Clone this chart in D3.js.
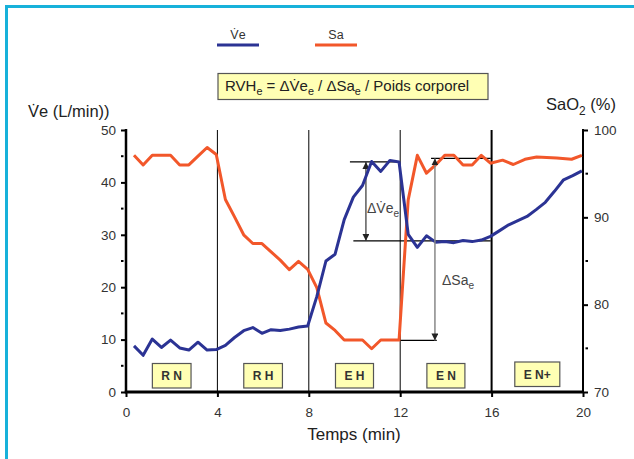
<!DOCTYPE html>
<meta charset="utf-8">
<style>
  body { margin: 0; background: #fff; }
  svg { display: block; font-family: "Liberation Sans", Arial, sans-serif; }
  .tick text { fill: #333; font-size: 13.5px; font-family: "Liberation Sans", Arial, sans-serif; }
  .tick line { stroke: #000; stroke-width: 2; }
  .phase text { font-weight: bold; font-size: 12px; fill: #333; }
</style>
<body>
</body>
<script src="https://cdn.jsdelivr.net/npm/d3@7"></script>
<script>
  const W = 634, H = 459;

  // time (min) of each sample
  const veTime = [0.35, 0.75, 1.15, 1.55, 1.95, 2.35, 2.75, 3.15, 3.55, 3.95,
                  4.35, 4.75, 5.15, 5.55, 5.95, 6.35, 6.75, 7.15, 7.55, 7.95,
                  8.35, 8.75, 9.15, 9.55, 9.95, 10.35, 10.75, 11.15, 11.55, 11.95,
                  12.35, 12.75, 13.15, 13.55, 13.95, 14.35, 14.75, 15.15, 15.55, 15.95,
                  16.35, 16.75, 17.15, 17.55, 17.95, 18.35, 18.75, 19.15, 19.55, 19.95];
  const veValues = [8.8, 7.0, 10.1, 8.5, 9.9, 8.4, 8.0, 9.5, 8.0, 8.1,
                    8.9, 10.4, 11.7, 12.3, 11.2, 11.9, 11.75, 12.0, 12.4, 12.6,
                    18.2, 25.0, 26.3, 32.9, 37.2, 39.4, 44.0, 42.1, 44.2, 43.9,
                    30.1, 27.6, 29.8, 28.6, 28.7, 28.5, 28.9, 28.7, 29.0, 29.7,
                    30.8, 31.9, 32.7, 33.5, 34.8, 36.2, 38.3, 40.5, 41.3, 42.2];

  const saTime = [0.35, 0.75, 1.15, 1.55, 1.95, 2.35, 2.75, 3.15, 3.55, 3.95,
                  4.35, 4.75, 5.15, 5.55, 5.95, 6.35, 6.75, 7.15, 7.55, 7.95,
                  8.35, 8.75, 9.15, 9.55, 9.95, 10.35, 10.75, 11.15, 11.55, 11.95,
                  12.35, 12.75, 13.15, 13.55, 13.95, 14.35, 14.75, 15.15, 15.55, 15.95,
                  16.48, 16.95, 17.46, 17.97, 18.85, 19.5, 19.95];
  const saValues = [97.1, 96.0, 97.1, 97.1, 97.1, 96.0, 96.0, 97.0, 98.0, 97.2,
                    92.05, 90.05, 88.0, 87.0, 87.0, 86.05, 85.1, 84.0, 84.95, 84.05,
                    81.95, 77.9, 77.05, 75.95, 75.95, 75.95, 74.95, 75.95, 75.95, 75.95,
                    92.0, 97.1, 95.05, 96.0, 97.1, 97.1, 96.0, 96.0, 97.1, 96.2,
                    96.55, 96.05, 96.65, 96.9, 96.8, 96.65, 97.1];

  const xTicks = [0, 4, 8, 12, 16, 20];
  const leftTicks = [0, 10, 20, 30, 40, 50];
  const leftMinor = [5, 15, 25, 35, 45];
  const rightTicks = [70, 80, 90, 100];
  const rightMinor = [75, 85, 95];

  const phaseLines = [4, 8, 12, 16];
  const phases = ['R N', 'R H', 'E H', 'E N', 'E N+'];
  const phaseCenters = [2, 6, 10, 14, 18];

  // delta annotations: [t1, t2, value]
  const veLevels = [[9.8, 11.95, 43.9], [9.95, 15.96, 28.85]];
  const veArrowT = 10.5;
  const saLevels = [[13.35, 15.96, 96.75], [11.95, 13.6, 75.9]];
  const saArrowT = 13.52;

  const blue = '#2b3394', orange = '#f2572a';

  const x = d3.scaleLinear().domain([0, 20]).range([126, 583]);
  const yL = d3.scaleLinear().domain([0, 50]).range([392, 130]);
  const yR = d3.scaleLinear().domain([70, 100]).range([392, 130]);

  const svg = d3.select('body').append('svg')
    .attr('width', W)
    .attr('height', H);

  // frame
  svg.append('path')
    .attr('d', `M6.5,${H} V6.5 H${W}`)
    .attr('fill', 'none')
    .attr('stroke', '#17b1da')
    .attr('stroke-width', 3);

  const defs = svg.append('defs');
  defs.append('marker')
    .attr('id', 'arrow')
    .attr('viewBox', '0 0 10 10')
    .attr('refX', 10).attr('refY', 5)
    .attr('markerWidth', 7).attr('markerHeight', 7)
    .attr('orient', 'auto-start-reverse')
    .attr('markerUnits', 'userSpaceOnUse')
    .append('path').attr('d', 'M0,0 L10,5 L0,10 z').attr('fill', '#222');

  // phase separators
  svg.append('g').selectAll('line')
    .data(phaseLines)
    .join('line')
    .attr('x1', d => x(d)).attr('x2', d => x(d))
    .attr('y1', yL(50)).attr('y2', yL(0))
    .attr('stroke', '#000')
    .attr('stroke-width', d => d === 16 ? 2 : 1);

  // axes
  svg.append('g')
    .attr('transform', `translate(${x(0)},0)`)
    .call(d3.axisLeft(yL).tickValues(leftTicks).tickSize(5).tickPadding(5))
    .call(g => g.select('.domain').remove());
  svg.append('g')
    .selectAll('line').data(leftMinor).join('line')
    .attr('x1', x(0) - 5).attr('x2', x(0) - 2.5)
    .attr('y1', d => yL(d)).attr('y2', d => yL(d))
    .attr('stroke', '#000').attr('stroke-width', 2);

  svg.append('g')
    .attr('transform', `translate(${x(20)},0)`)
    .call(d3.axisRight(yR).tickValues(rightTicks).tickSize(5).tickPadding(6))
    .call(g => g.select('.domain').remove());
  svg.append('g')
    .selectAll('line').data(rightMinor).join('line')
    .attr('x1', x(20) + 2.5).attr('x2', x(20) + 5)
    .attr('y1', d => yR(d)).attr('y2', d => yR(d))
    .attr('stroke', '#000').attr('stroke-width', 2);

  svg.append('g')
    .attr('transform', `translate(0,${yL(0)})`)
    .call(d3.axisBottom(x).tickValues(xTicks).tickSize(5).tickPadding(10))
    .call(g => g.select('.domain').remove());

  svg.append('line')
    .attr('x1', x(0)).attr('x2', x(0)).attr('y1', yL(50) - 1).attr('y2', yL(0))
    .attr('stroke', '#000').attr('stroke-width', 2.5);
  svg.append('line')
    .attr('x1', x(20)).attr('x2', x(20)).attr('y1', yL(50) - 1).attr('y2', yL(0))
    .attr('stroke', '#000').attr('stroke-width', 2);
  svg.append('line')
    .attr('x1', x(0) - 1.25).attr('x2', x(20) + 1).attr('y1', yL(0)).attr('y2', yL(0))
    .attr('stroke', '#000').attr('stroke-width', 3);

  // phase labels
  const ph = svg.append('g').attr('class', 'phase')
    .selectAll('g').data(phases).join('g');
  ph.append('rect');
  ph.append('text')
    .attr('x', (d, i) => x(phaseCenters[i]))
    .attr('y', (d, i) => i === 4 ? 379 : 380)
    .attr('text-anchor', 'middle')
    .text(d => d);
  ph.each(function(d, i) {
    const t = d3.select(this).select('text');
    const w = t.node().getComputedTextLength() + 18;
    d3.select(this).select('rect')
      .attr('x', x(phaseCenters[i]) - w / 2)
      .attr('y', i === 4 ? 362 : 363.5)
      .attr('width', w).attr('height', 24.5)
      .attr('fill', '#ffffb4')
      .attr('stroke', '#555')
      .attr('stroke-width', 1.2);
  });

  // annotation levels
  const ann = svg.append('g');
  ann.selectAll('.ve-level').data(veLevels).join('line')
    .attr('x1', d => x(d[0])).attr('x2', d => x(d[1]))
    .attr('y1', d => yL(d[2])).attr('y2', d => yL(d[2]))
    .attr('stroke', '#000').attr('stroke-width', 1.2);
  ann.selectAll('.sa-level').data(saLevels).join('line')
    .attr('x1', d => x(d[0])).attr('x2', d => x(d[1]))
    .attr('y1', d => yR(d[2])).attr('y2', d => yR(d[2]))
    .attr('stroke', '#000').attr('stroke-width', 1.2);

  // data lines
  const veLine = d3.line().x((d, i) => x(veTime[i])).y(d => yL(d));
  const saLine = d3.line().x((d, i) => x(saTime[i])).y(d => yR(d));
  svg.append('path')
    .attr('d', saLine(saValues))
    .attr('fill', 'none').attr('stroke', orange).attr('stroke-width', 3)
    .attr('stroke-linejoin', 'round');
  svg.append('path')
    .attr('d', veLine(veValues))
    .attr('fill', 'none').attr('stroke', blue).attr('stroke-width', 3)
    .attr('stroke-linejoin', 'round');

  // delta arrows
  ann.append('line')
    .attr('x1', x(veArrowT)).attr('x2', x(veArrowT))
    .attr('y1', yL(veLevels[0][2])).attr('y2', yL(veLevels[1][2]))
    .attr('stroke', '#333').attr('stroke-width', 1.2)
    .attr('marker-start', 'url(#arrow)').attr('marker-end', 'url(#arrow)');
  svg.append('line')
    .attr('x1', x(saArrowT)).attr('x2', x(saArrowT))
    .attr('y1', yR(saLevels[0][2])).attr('y2', yR(saLevels[1][2]))
    .attr('stroke', '#888').attr('stroke-width', 1.5)
    .attr('marker-start', 'url(#arrow)').attr('marker-end', 'url(#arrow)');

  // text with subscripts: parts = [[string, isSub], ...]
  const sub = (t, parts, size) => {
    let shift = 0;
    parts.forEach(([s, isSub]) => {
      const target = isSub ? size * 0.28 : 0;
      t.append('tspan')
        .attr('font-size', isSub ? size * 0.72 : size)
        .attr('dy', target - shift)
        .text(s);
      shift = target;
    });
  };

  const dVe = svg.append('text').attr('x', 367).attr('y', 213).attr('fill', '#444');
  sub(dVe, [['\u0394V\u0307e', false], ['e', true]], 14);
  const dSa = svg.append('text').attr('x', 442).attr('y', 285).attr('fill', '#444');
  sub(dSa, [['\u0394Sa', false], ['e', true]], 14);

  // legend
  const legend = [['V\u0307e', blue, 238], ['Sa', orange, 336]];
  const lg = svg.append('g').selectAll('g').data(legend).join('g');
  lg.append('text')
    .attr('x', d => d[2]).attr('y', 39)
    .attr('text-anchor', 'middle')
    .attr('font-size', 12.5).attr('fill', '#333')
    .text(d => d[0]);
  lg.append('line')
    .attr('x1', d => d[2] - 21).attr('x2', d => d[2] + 21)
    .attr('y1', 45).attr('y2', 45)
    .attr('stroke', d => d[1]).attr('stroke-width', 3);

  // formula box
  svg.append('rect')
    .attr('x', 218).attr('y', 73.5).attr('width', 270).attr('height', 26)
    .attr('fill', '#ffffb4').attr('stroke', '#555').attr('stroke-width', 1.2);
  const f = svg.append('text').attr('x', 225).attr('y', 91).attr('fill', '#222');
  sub(f, [['RVH', false], ['e', true], [' = \u0394V\u0307e', false], ['e', true],
          [' / \u0394Sa', false], ['e', true], [' / Poids corporel', false]], 15);

  // axis titles
  svg.append('text')
    .attr('x', 28).attr('y', 117)
    .attr('font-size', 16.5).attr('fill', '#222')
    .text('V\u0307e (L/min))');
  const sa = svg.append('text').attr('x', 546).attr('y', 110).attr('fill', '#222');
  sub(sa, [['SaO', false], ['2', true], [' (%)', false]], 16.5);

  svg.append('text')
    .attr('x', 354).attr('y', 440)
    .attr('text-anchor', 'middle')
    .attr('font-size', 17).attr('fill', '#222')
    .text('Temps (min)');
</script>
